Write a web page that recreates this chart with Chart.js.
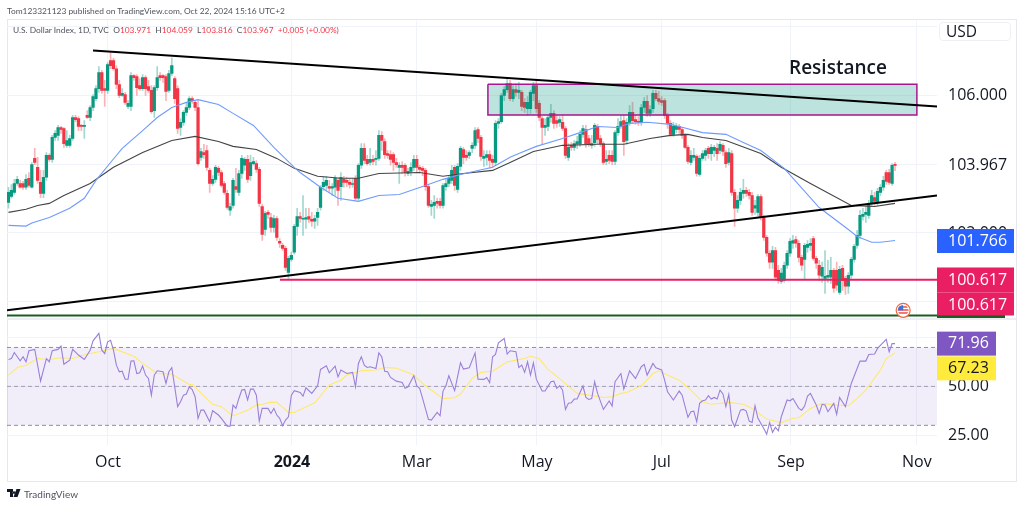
<!DOCTYPE html>
<html>
<head>
<meta charset="utf-8">
<title>U.S. Dollar Index</title>
<script src="https://cdn.jsdelivr.net/npm/chart.js@4"></script>
<style>
    html, body { margin: 0; padding: 0; background: #fff; }
    body { width: 1024px; height: 506px; position: relative; overflow: hidden; font-family: "Open Sans", sans-serif; }
    canvas { position: absolute; left: 0; top: 0; }
    .abs { position: absolute; white-space: pre; }
    #frame { position: absolute; left: 7px; top: 19px; width: 1008px; height: 461px; border: 1px solid #e6e8ee; }
    #divider { position: absolute; left: 7px; top: 318px; width: 1009px; height: 2px; background: #eceef3; }
    #byline { left: 7px; top: 5px; font-family: Lato, sans-serif; font-size: 8.4px; line-height: 12px; color: #50535e; }
    #legend { left: 13px; top: 24px; font-family: Lato, sans-serif; font-size: 8.4px; line-height: 12px; color: #50535e; }
    #legend b { font-weight: 400; color: #f23645; }
    #resist { left: 789px; top: 54px; font-size: 19px; font-weight: 600; color: #131722; }
    #usd { left: 939px; top: 22px; width: 64px; height: 17px; line-height: 17px; padding-left: 6px; border: 1px solid #eef0f4; border-radius: 4px; background: #fff; font-size: 15.5px; color: #131722; }
    #brand { left: 24px; top: 488px; font-family: Lato, sans-serif; font-size: 10px; color: #50535e; }
    #logo { position: absolute; left: 7px; top: 489px; }
</style>
</head>
<body>
<div id="frame"></div>
<canvas id="chart" width="1024" height="506"></canvas>
<div id="divider"></div>
<div class="abs" id="byline">Tom123321123 published on TradingView.com, Oct 22, 2024 15:16 UTC+2</div>
<div class="abs" id="legend">U.S. Dollar Index, 1D, TVC  O<b>103.971</b>  H<b>104.059</b>  L<b>103.816</b>  C<b>103.967</b>  <b>+0.005 (+0.00%)</b></div>
<div class="abs" id="resist">Resistance</div>
<div class="abs" id="usd">USD</div>
<svg id="logo" width="14" height="9" viewBox="0 0 14 9"><path d="M0 0h6v8H3V3H0zM6.5 8L9.5 0h4l-3 8zM7 2.2a1.3 1.3 0 1 0 .01 0z" fill="#131722"/></svg>
<div class="abs" id="brand">TradingView</div>

<script>
// daily candles, bar 0 is the leftmost one
const opens = [
    102.89,103.06,103.18,103.44,103.44,103.44,103.33,103.59,103.33,104.17,
    103.91,103.47,103.15,103.62,104.26,104.14,104.78,104.84,105.07,105.04,
    104.55,104.55,104.75,105.36,105.33,105.13,105.10,105.42,105.36,105.65,
    105.91,106.20,106.67,106.20,106.15,107.02,107.02,106.78,106.32,106.00,
    106.03,105.68,105.68,106.58,106.55,106.29,106.20,106.52,106.26,106.15,
    105.56,106.23,106.58,106.58,106.55,106.15,106.64,106.49,106.20,105.07,
    105.22,105.51,105.65,105.91,105.80,105.65,104.20,104.34,104.40,103.82,
    103.44,103.56,103.88,103.76,103.44,103.15,102.66,102.80,103.35,103.18,
    103.73,103.97,104.14,103.67,104.02,104.02,103.85,102.77,102.10,102.60,
    102.45,102.16,102.42,101.76,101.64,101.55,100.85,101.23,101.44,102.19,
    102.48,102.40,102.40,102.48,102.40,102.34,102.45,102.74,103.35,103.38,
    103.35,103.30,103.33,103.53,103.35,103.56,103.53,103.47,103.41,103.59,
    103.01,103.97,104.46,104.14,104.05,104.14,104.14,104.17,104.84,104.66,
    104.31,104.28,104.28,104.05,103.91,103.97,103.97,103.73,103.79,103.91,
    104.14,103.91,103.88,103.82,103.35,102.77,102.80,102.92,102.92,102.80,
    103.35,103.44,103.53,103.91,103.27,103.94,104.43,104.26,104.26,104.46,
    104.55,105.01,104.78,104.17,104.20,104.28,104.14,104.05,105.19,105.24,
    106.00,106.17,106.35,105.91,106.17,106.09,106.09,105.80,105.62,105.62,
    106.06,106.29,105.77,105.33,105.07,105.10,105.36,105.48,105.27,105.22,
    105.22,105.04,104.20,104.55,104.49,104.60,104.60,104.87,105.01,104.75,
    104.55,104.63,105.10,104.75,104.60,104.08,104.26,104.26,104.08,104.92,
    105.10,105.27,104.69,105.22,105.51,105.30,105.24,105.22,105.65,105.83,
    105.48,105.62,106.06,105.91,105.85,105.85,105.42,105.19,104.87,105.01,
    105.10,105.01,104.84,104.49,104.05,104.20,104.23,103.70,104.17,104.26,
    104.46,104.31,104.40,104.46,104.40,104.55,104.34,104.05,104.31,103.18,
    102.72,102.95,103.15,103.24,103.18,103.09,102.72,102.60,103.06,102.45,
    101.87,101.41,101.15,101.49,100.91,100.59,100.62,101.06,101.41,101.70,
    101.81,101.70,101.29,101.23,101.58,101.64,101.84,101.26,101.06,100.74,
    100.68,100.71,100.71,100.91,100.91,100.27,100.97,100.68,100.45,100.77,
    101.23,101.64,101.93,102.48,102.54,102.51,102.86,103.03,102.89,103.18,
    103.33,103.76,103.76,103.44,103.971
];
const closes = [
    103.18,103.24,103.44,103.56,103.33,103.33,103.56,103.38,103.99,104.05,
    103.53,103.15,103.62,104.26,104.14,104.78,104.90,105.07,105.01,104.60,
    104.69,104.75,105.36,105.30,105.10,105.10,105.13,105.36,105.65,105.97,
    106.20,106.67,106.15,106.15,106.90,106.87,106.78,106.32,106.00,106.06,
    105.80,105.77,106.58,106.52,106.23,106.20,106.52,106.20,106.15,105.53,
    106.23,106.52,106.52,106.52,106.12,106.64,106.87,105.91,105.04,105.22,
    105.51,105.65,105.91,105.85,105.65,104.02,104.37,104.28,103.91,103.44,
    103.56,103.91,103.76,103.38,103.18,102.74,102.77,103.53,103.27,103.73,
    104.17,104.14,103.56,104.05,104.08,103.85,102.86,101.96,102.57,102.54,
    102.16,102.42,101.87,101.70,101.55,101.00,101.26,101.35,102.19,102.48,
    102.42,102.42,102.45,102.40,102.34,102.42,102.60,103.33,103.47,103.53,
    103.30,103.35,103.59,103.24,103.62,103.47,103.47,103.41,103.44,103.01,
    103.97,104.46,104.11,104.02,104.14,104.08,104.17,104.84,104.69,104.28,
    104.26,104.14,104.05,103.99,103.97,103.91,103.76,103.79,103.91,104.14,
    103.91,103.85,103.82,103.35,102.80,102.83,102.89,102.86,102.80,103.38,
    103.44,103.59,103.82,103.38,103.94,104.46,104.20,104.20,104.34,104.55,
    104.98,104.75,104.23,104.23,104.28,104.11,104.05,105.19,105.24,106.00,
    106.17,106.35,105.91,106.17,106.09,106.15,105.68,105.65,105.80,106.09,
    106.29,105.62,105.36,105.07,105.13,105.36,105.48,105.19,105.19,105.30,
    105.04,104.26,104.49,104.49,104.60,104.66,104.87,105.04,104.60,104.60,
    104.60,105.13,104.72,104.60,104.05,104.14,104.11,104.08,104.92,105.10,
    105.24,104.66,105.22,105.51,105.27,105.24,105.22,105.65,105.83,105.48,
    105.59,106.06,105.91,105.83,105.80,105.42,105.19,104.87,105.10,105.10,
    105.01,104.84,104.49,104.08,104.26,104.26,103.73,104.17,104.31,104.40,
    104.31,104.49,104.49,104.31,104.58,104.37,104.02,104.34,103.18,102.72,
    102.95,103.18,103.24,103.15,103.09,102.60,102.80,103.06,102.45,101.87,
    101.41,101.15,101.49,100.71,100.62,100.83,101.06,101.41,101.76,101.78,
    101.70,101.29,101.06,101.64,101.67,101.70,101.26,101.12,100.77,101.00,
    100.74,100.77,100.91,100.39,100.48,100.94,100.62,100.45,100.77,101.23,
    101.61,101.93,102.51,102.54,102.60,102.86,103.09,102.92,103.21,103.33,
    103.53,103.50,103.47,103.97,103.967
];
const highs = [
    103.33,103.41,103.56,103.65,103.53,103.50,103.70,103.76,104.05,104.46,
    104.20,103.82,103.82,104.34,104.31,104.84,104.98,105.13,105.10,105.07,
    104.98,104.84,105.42,105.42,105.39,105.16,105.27,105.56,105.71,106.03,
    106.29,106.84,106.73,106.44,106.96,107.25,107.08,106.87,106.44,106.20,
    106.09,105.85,106.67,106.61,106.61,106.49,106.61,106.58,106.44,106.29,
    106.29,106.84,106.67,106.61,106.61,106.73,107.10,106.55,106.29,105.33,
    105.56,105.77,105.97,105.97,105.85,105.85,104.46,104.58,104.55,103.88,
    103.67,103.97,103.94,103.82,103.50,103.24,102.86,103.59,103.88,103.82,
    104.26,104.20,104.26,104.26,104.20,104.11,103.91,102.83,102.63,102.66,
    102.57,102.51,102.48,101.84,101.70,101.61,101.32,101.44,102.25,102.72,
    102.60,103.09,102.72,102.72,102.60,102.51,102.72,103.38,103.65,103.65,
    103.53,103.44,103.67,103.59,103.76,103.65,103.62,103.59,103.59,103.67,
    104.02,104.60,104.60,104.26,104.46,104.26,104.40,104.98,104.95,104.75,
    104.40,104.40,104.34,104.17,104.05,104.08,104.02,103.88,104.05,104.26,
    104.26,103.97,103.94,103.88,103.41,102.95,103.09,103.01,103.01,103.44,
    103.59,103.67,103.97,103.97,104.02,104.52,104.49,104.40,104.40,104.63,
    105.07,105.07,104.84,104.40,104.40,104.40,104.26,105.27,105.33,106.06,
    106.26,106.52,106.44,106.29,106.35,106.38,106.15,105.91,105.97,106.15,
    106.38,106.47,105.85,105.39,105.33,105.42,105.74,105.56,105.42,105.39,
    105.42,105.10,104.60,104.63,104.69,104.81,104.98,105.13,105.13,104.84,
    104.84,105.19,105.16,104.84,104.66,104.40,104.40,104.40,104.98,105.33,
    105.42,105.42,105.33,105.71,105.80,105.42,105.39,105.74,105.94,106.00,
    105.71,106.15,106.15,106.12,105.97,105.91,105.48,105.27,105.22,105.19,
    105.16,105.07,104.90,104.55,104.40,104.46,104.28,104.26,104.40,104.46,
    104.52,104.58,104.55,104.60,104.66,104.60,104.40,104.46,104.40,103.27,
    103.09,103.30,103.56,103.33,103.27,103.18,102.95,103.12,103.12,102.51,
    101.93,101.49,101.61,101.58,101.06,100.97,101.15,101.49,101.84,101.93,
    101.90,101.78,101.35,101.70,101.78,101.84,101.90,101.32,101.20,101.15,
    101.49,101.20,101.29,100.97,101.15,101.03,101.06,100.74,100.85,101.29,
    101.67,102.08,102.66,102.72,102.80,102.95,103.24,103.18,103.30,103.41,
    103.65,103.82,103.85,104.02,104.059
];
const lows = [
    102.72,103.01,103.12,103.38,103.30,103.27,103.27,103.33,103.30,103.99,
    103.44,103.03,103.03,103.53,104.08,104.05,104.69,104.69,104.90,104.49,
    104.49,104.49,104.69,105.24,104.98,104.98,104.75,105.33,105.27,105.56,
    105.85,106.09,106.06,105.68,106.06,106.78,106.73,106.20,105.94,105.97,
    105.74,105.62,105.56,106.44,106.00,106.15,106.15,106.00,106.09,105.48,
    105.36,106.15,106.44,106.38,105.85,106.09,106.58,105.77,104.90,104.84,
    105.13,105.42,105.59,105.77,105.56,103.97,104.11,104.17,103.82,103.18,
    103.38,103.47,103.67,103.33,103.12,102.69,102.51,102.72,103.18,103.09,
    103.59,103.82,103.47,103.53,103.97,103.76,102.77,101.78,101.93,102.42,
    102.02,102.02,101.78,101.58,101.49,100.91,100.68,101.18,101.38,101.93,
    102.31,101.93,102.13,102.31,102.19,102.13,102.22,102.66,103.24,103.24,
    103.18,103.09,103.09,102.80,102.95,103.33,103.35,103.30,103.33,102.95,
    102.95,103.88,104.02,103.97,103.97,103.99,103.97,104.11,104.40,104.17,
    104.17,103.97,103.82,103.91,103.44,103.73,103.65,103.67,103.67,103.82,
    103.76,103.76,103.67,103.24,102.74,102.51,102.42,102.72,102.72,102.72,
    103.24,103.35,103.44,103.24,103.18,103.82,104.02,104.11,104.17,104.34,
    104.46,104.63,104.11,103.94,103.97,103.88,103.91,103.97,105.04,105.19,
    105.85,106.09,105.85,105.83,105.97,105.91,105.56,105.51,105.42,105.48,
    105.85,105.51,105.27,104.60,104.84,104.98,105.22,105.04,105.07,105.10,
    104.98,104.17,104.11,104.40,104.40,104.46,104.52,104.78,104.49,104.52,
    104.46,104.52,104.60,104.52,103.99,103.99,104.02,103.99,103.99,104.84,
    105.04,104.26,104.58,105.13,105.19,105.16,105.13,105.13,105.51,105.39,
    105.39,105.51,105.85,105.74,105.71,105.33,105.04,104.81,104.81,104.92,
    104.90,104.75,104.46,104.02,103.97,104.11,103.65,103.65,104.11,104.11,
    104.17,104.11,104.23,104.11,104.31,104.26,103.91,103.97,103.09,102.19,
    102.60,102.83,103.01,103.06,102.98,102.51,102.54,102.48,102.37,101.78,
    101.32,100.97,100.97,100.62,100.53,100.53,100.56,100.97,101.32,101.55,
    101.58,101.15,100.91,100.65,101.44,101.49,101.20,100.97,100.62,100.56,
    100.24,100.56,100.53,100.27,100.33,100.21,100.33,100.21,100.24,100.68,
    101.15,101.55,101.84,102.37,102.31,102.42,102.77,102.80,102.80,103.09,
    103.24,103.41,103.41,103.38,103.816
];

// moving averages on the price pane
const fastMaBars = [0,6,8,14,21,26,30,35,39,46,51,56,61,65,72,77,84,91,98,100,107,113,120,127,134,142,149,155,161,166,172,175,181,190,196,202,209,213,219,227,230,238,246,252,258,266,278,288,291,296,299,304];
const fastMa = [102.22,102.20,102.29,102.45,102.72,103.01,103.53,104.05,104.46,104.98,105.36,105.65,105.80,105.88,105.74,105.48,105.13,104.49,103.91,103.76,103.33,103.01,102.92,103.09,103.12,103.35,103.56,103.70,103.82,103.91,104.20,104.31,104.52,104.75,104.92,105.10,105.07,105.19,105.22,105.16,105.10,104.92,104.87,104.63,104.40,103.88,102.74,102.10,101.90,101.73,101.73,101.78];
const slowMaBars = [0,6,10,14,19,28,36,46,56,64,72,77,85,92,98,106,114,120,127,141,149,156,166,172,180,190,202,211,220,227,233,238,246,258,265,275,289,297,304];
const slowMa = [102.60,102.69,102.80,102.86,103.09,103.44,103.91,104.34,104.69,104.81,104.66,104.52,104.43,104.17,103.88,103.65,103.59,103.59,103.73,103.76,103.65,103.73,103.82,104.05,104.37,104.55,104.58,104.58,104.75,104.84,104.87,104.78,104.69,104.31,103.91,103.44,102.80,102.77,102.86];

// RSI pane
const rsiBars = [0,1,2,4,5,6,7,9,11,13,14,15,17,18,19,21,22,24,26,28,29,31,32,33,34,35,36,37,38,39,40,41,42,43,44,45,46,47,48,49,50,51,53,54,55,56,57,58,59,60,61,62,63,64,65,66,67,69,70,72,73,75,76,77,78,79,80,81,82,83,84,85,86,87,89,90,91,92,93,94,95,96,97,98,100,101,102,104,106,107,109,110,112,113,
    114,116,118,119,120,121,122,123,124,126,127,128,129,130,131,133,135,136,137,139,140,141,142,144,145,147,148,149,150,151,153,155,156,158,160,161,163,164,165,166,167,168,170,171,172,174,175,176,177,178,179,180,181,183,184,186,187,188,189,190,191,192,193,194,195,197,198,199,200,201,202,204,206,207,208,210,211,213,215,217,218,219,221,222,224,225,226,
    228,230,231,233,234,235,236,237,238,239,240,241,242,243,244,245,246,247,248,249,251,252,253,254,255,256,257,259,260,261,262,263,264,265,267,268,269,271,272,273,274,275,277,278,279,280,281,283,284,285,287,289,292,294,295,297,298,301,302,303,304];
const rsi = [63.8,64.3,67.4,63.1,65.2,62.6,68.3,69.0,52.7,64.3,62.6,68.3,69.0,70.7,61.4,63.5,69.0,66.1,63.8,68.6,73.4,77.2,68.6,66.9,72.9,73.7,68.6,60.9,57.5,57.8,53.7,53.7,63.0,63.1,56.6,57.0,60.4,55.8,54.1,45.5,55.8,58.0,57.5,51.5,57.5,59.6,49.8,39.6,42.1,45.5,46.1,49.8,48.4,44.7,33.6,37.8,37.8,31.9,37.5,35.3,33.6,29.6,29.6,40.4,38.7,43.8,48.1,48.4,43.0,48.6,48.6,45.5,32.2,38.7,38.7,36.1,38.7,35.3,33.6,29.8,32.7,34.4,45.5,47.8,46.9,45.0,49.3,46.4,50.3,58.7,60.6,57.0,60.4,54.9,
    58.4,56.6,57.2,49.8,61.8,65.2,60.9,59.7,60.1,59.2,67.2,65.2,57.8,57.5,54.6,52.7,52.0,49.0,49.8,55.5,50.3,49.0,43.8,33.1,32.7,36.6,34.9,47.6,50.3,55.5,47.8,62.1,58.9,59.6,67.2,53.7,53.6,54.6,51.9,65.2,66.4,72.4,74.6,66.6,68.3,67.8,59.7,60.9,57.2,62.6,55.8,62.1,53.7,47.6,47.6,52.4,52.7,49.0,50.3,48.1,38.2,41.3,41.6,43.5,43.5,50.2,44.3,43.3,43.8,52.4,46.4,38.2,42.5,39.9,52.4,56.6,48.6,58.0,54.1,60.1,61.3,55.8,61.8,59.6,58.4,53.2,47.2,
    43.0,47.6,45.5,34.1,37.0,37.3,31.9,41.3,42.6,43.0,45.2,43.5,44.3,43.5,48.1,46.1,39.6,45.9,32.7,29.3,37.8,38.2,37.3,32.2,31.5,40.1,33.6,28.4,25.4,31.4,26.4,29.0,27.2,34.4,43.0,42.6,43.8,38.7,37.8,39.9,45.0,46.4,40.4,36.1,40.8,40.4,37.0,41.3,35.6,44.3,39.6,51.5,63.0,63.0,66.4,66.6,69.5,74.1,67.8,72.0,71.96];
const rsiMaBars = [0,3,6,10,14,18,22,27,31,36,43,46,51,56,62,63,70,73,77,82,85,87,90,92,96,98,105,106,110,114,116,121,126,129,133,139,142,149,153,155,159,162,166,171,177,179,182,185,190,195,199,204,207,210,212,217,221,223,226,230,234,238,241,247,252,255,260,265,269,271,275,279,284,288,291,294,299,301,304];
const rsiMa = [55.8,59.7,60.9,64.3,63.8,64.7,64.3,66.6,67.8,69.5,65.5,61.8,56.6,56.3,51.0,51.0,40.8,39.6,34.8,37.8,40.4,40.8,41.9,41.8,36.6,36.6,41.6,43.3,50.7,53.2,55.8,58.0,58.4,59.7,59.4,55.8,51.5,43.7,44.2,46.1,54.1,57.2,57.8,62.6,64.3,65.5,64.3,58.7,52.7,46.4,45.5,44.3,44.7,46.4,46.9,50.3,56.6,58.0,55.8,53.2,48.1,42.1,40.8,41.8,40.8,38.7,33.2,31.4,33.6,33.9,38.7,41.3,40.4,40.1,43.8,48.1,58.4,64.3,67.23];

// axes
const firstBar = -0.51;
const lastBar = 318.4;
const monthBars = [34.1, 97.2, 140, 181.2, 224, 268.3, 311.5];
const monthLabels = ['Oct', '2024', 'Mar', 'May', 'Jul', 'Sep', 'Nov'];
const priceTicks = [108, 106, 104, 102, 100];
const priceLabelled = [106, 102];
const rsiTicks = [75, 50, 25];
const rsiLabelled = [50, 25];

// drawings
const upperTrendBars = [29, 318.4];
const upperTrend = [107.31, 105.68];
const lowerTrendBars = [-0.51, 318.4];
const lowerTrend = [99.75, 103.09];
const supportBars = [93.1, 318.4];
const support = 100.64;
const floorLevel = 99.6;
const zoneBars = [164.4, 311.5];
const zoneTop = 106.33;
const zoneBottom = 105.43;
const eventBar = 306.8;
const eventLevel = 99.75;

const UP = '#089981';
const DOWN = '#f23645';
const UP_WICK = 'rgba(8,153,129,0.38)';
const DOWN_WICK = 'rgba(242,54,69,0.38)';
const FONT = '"Open Sans", sans-serif';

function pairs(xs, ys) {
    return xs.map((x, i) => ({ x: x, y: ys[i] }));
}

function lineSet(data, axis, color, width, order, extra) {
    return Object.assign({
        type: 'line', data: data, yAxisID: axis, borderColor: color, borderWidth: width,
        pointRadius: 0, tension: 0, fill: false, order: order
    }, extra || {});
}

const tags = [
    { axis: 'price', value: 99.6, text: '', bg: '#1b5e20', fg: '#fff', w: 68, top: -4, bottom: 4 },
    { axis: 'price', value: 103.967, text: '103.967', bg: '#fff', fg: '#131722', w: 77, top: -12, bottom: 12 },
    { axis: 'price', value: 101.766, text: '101.766', bg: '#2962ff', fg: '#fff', w: 77, top: -12, bottom: 12 },
    { axis: 'price', value: 100.617, text: '100.617', bg: '#e91e63', fg: '#fff', w: 77, top: -13, bottom: 12 },
    { axis: 'price', value: 100.617, text: '100.617', bg: '#e91e63', fg: '#fff', w: 77, top: 12, bottom: 35, shift: 24.5 },
    { axis: 'rsi', value: 71.96, text: '71.96', bg: '#7e57c2', fg: '#fff', w: 59, top: -12, bottom: 12 },
    { axis: 'rsi', value: 67.23, text: '67.23', bg: '#ffeb3b', fg: '#131722', w: 59, top: 3.5, bottom: 27.5, shift: 15.5 }
];

// last-value labels on the right axis and the small event flag
const overlays = {
    id: 'overlays',
    afterDraw(chart) {
        const ctx = chart.ctx;
        const left = chart.chartArea.right;
        ctx.save();
        ctx.font = '16px ' + FONT;
        ctx.textBaseline = 'middle';
        tags.forEach(t => {
            const y = chart.scales[t.axis].getPixelForValue(t.value);
            ctx.fillStyle = t.bg;
            ctx.fillRect(left, y + t.top, t.w, t.bottom - t.top);
            if (t.text) {
                ctx.fillStyle = t.fg;
                ctx.fillText(t.text, left + 11, y + (t.shift || 0));
            }
        });

        const fx = chart.scales.x.getPixelForValue(eventBar);
        const fy = chart.scales.price.getPixelForValue(eventLevel);
        ctx.beginPath();
        ctx.arc(fx, fy, 7, 0, Math.PI * 2);
        ctx.fillStyle = '#fff';
        ctx.fill();
        ctx.lineWidth = 1.2;
        ctx.strokeStyle = '#f0653c';
        ctx.stroke();
        ctx.beginPath();
        ctx.arc(fx, fy, 5.4, 0, Math.PI * 2);
        ctx.clip();
        ctx.fillStyle = '#e8453c';
        [-4, -1, 2].forEach(d => ctx.fillRect(fx - 6, fy + d, 12, 1.4));
        ctx.fillStyle = '#3f6fd8';
        ctx.fillRect(fx - 6, fy - 6, 6, 6);
        ctx.restore();
    }
};

const datasets = [
    lineSet(pairs(upperTrendBars, upperTrend), 'price', '#000', 2.2, 0),
    lineSet(pairs(lowerTrendBars, lowerTrend), 'price', '#000', 2.2, 0),
    lineSet(pairs(supportBars, [support, support]), 'price', '#e91e63', 2, 1),
    lineSet(pairs([firstBar, lastBar], [floorLevel, floorLevel]), 'price', '#1b5e20', 2, 1),
    lineSet(pairs([zoneBars[0], zoneBars[1], zoneBars[1], zoneBars[0], zoneBars[0]],
                  [zoneTop, zoneTop, zoneBottom, zoneBottom, zoneTop]), 'price', '#a9168f', 1.5, 2,
            { fill: 'shape', backgroundColor: 'rgba(8,153,129,0.27)' }),
    lineSet(pairs(fastMaBars, fastMa), 'price', '#6f9bff', 1.1, 3),
    lineSet(pairs(slowMaBars, slowMa), 'price', '#444', 1.1, 3),
    {
        type: 'bar', yAxisID: 'price', order: 4, grouped: false, barThickness: 2.6, minBarLength: 1,
        data: opens.map((o, i) => ({ x: i, y: [o, closes[i]] })),
        backgroundColor: opens.map((o, i) => closes[i] >= o ? UP : DOWN)
    },
    {
        type: 'bar', yAxisID: 'price', order: 5, grouped: false, barThickness: 1,
        data: highs.map((h, i) => ({ x: i, y: [lows[i], h] })),
        backgroundColor: opens.map((o, i) => closes[i] >= o ? UP_WICK : DOWN_WICK)
    },
    lineSet(pairs(rsiBars, rsi), 'rsi', '#9a80d8', 1.1, 0),
    lineSet(pairs(rsiMaBars, rsiMa), 'rsi', '#ffe96b', 1.1, 1),
    lineSet(pairs([firstBar, lastBar], [70, 70]), 'rsi', '#8f8f9c', 1, 2,
            { borderDash: [4, 3], fill: { value: 30 }, backgroundColor: 'rgba(126,87,194,0.1)' }),
    lineSet(pairs([firstBar, lastBar], [50, 50]), 'rsi', '#a5a5b0', 1, 2, { borderDash: [4, 3] }),
    lineSet(pairs([firstBar, lastBar], [30, 30]), 'rsi', '#8f8f9c', 1, 2, { borderDash: [4, 3] })
];

function rightAxis(min, max, weight, values, labelled, digits) {
    return {
        type: 'linear', position: 'right', stack: 'panes', stackWeight: weight, min: min, max: max,
        grid: { color: '#f0f3fa', drawTicks: false },
        border: { display: false },
        afterBuildTicks: scale => { scale.ticks = values.map(v => ({ value: v })); },
        afterFit: scale => { scale.width = 79; },
        ticks: {
            color: '#131722', padding: 11, font: { family: FONT, size: 16 },
            callback: v => labelled.includes(v) ? v.toFixed(digits) : ''
        }
    };
}

new Chart(document.getElementById('chart'), {
    data: { datasets: datasets },
    plugins: [overlays],
    options: {
        responsive: false,
        animation: false,
        parsing: { xAxisKey: 'x', yAxisKey: 'y' },
        layout: { padding: { left: 7, top: 20, right: 8, bottom: 25 } },
        plugins: { legend: { display: false }, tooltip: { enabled: false } },
        scales: {
            x: {
                type: 'linear', min: firstBar, max: lastBar, offset: false,
                grid: { color: '#f0f3fa', drawTicks: false, offset: false },
                border: { display: false },
                afterBuildTicks: scale => { scale.ticks = monthBars.map(v => ({ value: v })); },
                afterFit: scale => { scale.height = 36; },
                ticks: {
                    color: '#131722', padding: 8, maxRotation: 0, autoSkip: false,
                    font: ctx => ({ family: FONT, size: 16, weight: ctx.index === 1 ? '700' : '400' }),
                    callback: (v, i) => monthLabels[i]
                }
            },
            price: rightAxis(99.52, 108.18, 298, priceTicks, priceLabelled, 3),
            rsi: rightAxis(19.9, 85.03, 127, rsiTicks, rsiLabelled, 2)
        }
    }
});
</script>
</body>
</html>
